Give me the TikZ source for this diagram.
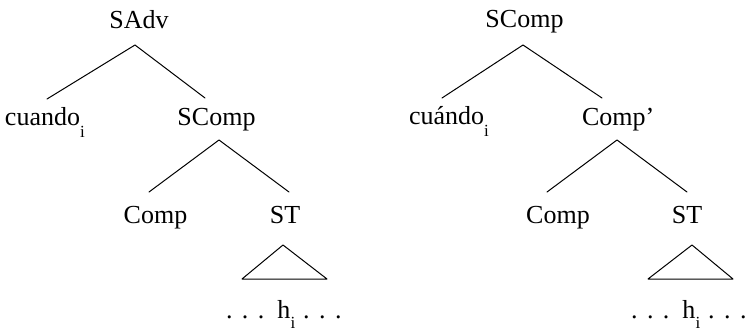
\documentclass[tikz,border=0pt]{standalone}
\usepackage{fontspec}
\setmainfont{Liberation Serif}
\newcommand\mydots{.\hspace{9.5pt}.\hspace{9.5pt}.}
\newcommand\subi[1][-12pt]{\raisebox{#1}{\fontsize{17}{17}\selectfont i}}
\begin{document}
\begin{tikzpicture}[x=1pt,y=-1pt,
  lbl/.style={inner sep=0pt,outer sep=0pt,font=\fontsize{26}{30}\selectfont},
  branch/.style={line width=1pt,line cap=round,line join=round}]
\useasboundingbox (0,0) rectangle (746,331);
% left tree
\node[lbl,anchor=base] (sadv) at (139,29) {SAdv};
\node[lbl,anchor=base west] (cuando) at (5,126) {cuando\subi};
\node[lbl,anchor=base] (scompL) at (216.5,126) {SComp};
\node[lbl,anchor=base] (compL) at (155.5,223) {Comp};
\node[lbl,anchor=base] (stL) at (285,223) {ST};
\node[lbl,anchor=base west] (dotsL) at (226,318) {\mydots\hspace{13pt}h\subi[-10.5pt]\hspace{8pt}\mydots};
\coordinate (a1) at (135,45);
\coordinate (b1) at (47,99);
\coordinate (b2) at (205,98);
\coordinate (a2) at (219,140);
\coordinate (c1) at (149,192);
\coordinate (c2) at (289,192);
\coordinate (t1) at (283,245);
\coordinate (t2) at (242,279);
\coordinate (t3) at (327,279);
\draw[branch] (b1) -- (a1) -- (b2);
\draw[branch] (c1) -- (a2) -- (c2);
\draw[branch] (t1) -- (t2) -- (t3) -- cycle;
% right tree
\node[lbl,anchor=base] (scompR) at (524.5,28) {SComp};
\node[lbl,anchor=base west] (cuandoR) at (409,125) {cuándo\subi};
\node[lbl,anchor=base west] (comppR) at (582,126) {Comp’};
\node[lbl,anchor=base] (compR) at (558,223) {Comp};
\node[lbl,anchor=base] (stR) at (687,223) {ST};
\node[lbl,anchor=base west] (dotsR) at (631,318) {\mydots\hspace{13pt}h\subi[-10.5pt]\hspace{8pt}\mydots};
\coordinate (a3) at (523,45);
\coordinate (d1) at (442,98);
\coordinate (d2) at (602,98);
\coordinate (a4) at (617,140);
\coordinate (e1) at (547,192);
\coordinate (e2) at (687,192);
\coordinate (u1) at (692,245);
\coordinate (u2) at (648,279);
\coordinate (u3) at (733,279);
\draw[branch] (d1) -- (a3) -- (d2);
\draw[branch] (e1) -- (a4) -- (e2);
\draw[branch] (u1) -- (u2) -- (u3) -- cycle;
\end{tikzpicture}
\end{document}
